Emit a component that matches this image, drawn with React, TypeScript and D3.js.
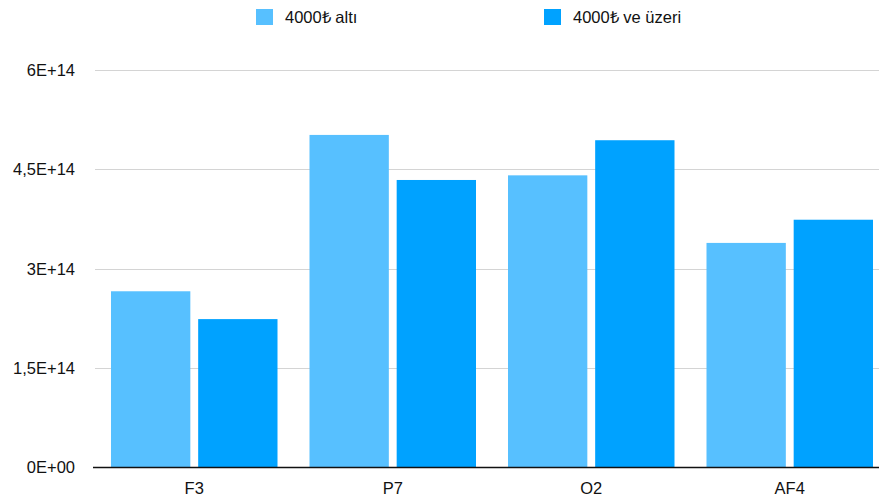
import React from "react";
import * as d3 from "d3";

const categories = ["F3", "P7", "O2", "AF4"];
const seriesNames = ["4000₺ altı", "4000₺ ve üzeri"];
const seriesBelow = [2.66e14, 5.02e14, 4.41e14, 3.39e14];
const seriesAbove = [2.24e14, 4.34e14, 4.94e14, 3.74e14];
const tickValues = [0, 1.5e14, 3e14, 4.5e14, 6e14];
const tickLabels = ["0E+00", "1,5E+14", "3E+14", "4,5E+14", "6E+14"];
const colors = ["#57c0ff", "#00a2ff"];

const W = 879;
const H = 497;
const FONT = "'Liberation Sans', Arial, Helvetica, sans-serif";

export default function App() {
  const y = d3.scaleLinear().domain([0, 6e14]).range([467.5, 70]);
  const x0 = d3.scaleBand().domain(categories).range([95, 889]).padding(0);
  const bw = x0.bandwidth();
  const x1 = d3
    .scaleBand()
    .domain(seriesNames)
    .range([16, bw - 16])
    .paddingInner(0.09)
    .paddingOuter(0);
  const data = [seriesBelow, seriesAbove];

  return (
    <svg
      width={W}
      height={H}
      style={{ position: "absolute", left: 0, top: 0, background: "#fff" }}
      fontFamily={FONT}
    >
      {tickValues.map((t, i) =>
        i === 0 ? null : (
          <line
            key={"g" + i}
            x1={95}
            x2={W}
            y1={Math.round(y(t)) + 0.5}
            y2={Math.round(y(t)) + 0.5}
            stroke="#d4d4d4"
            strokeWidth={1.2}
          />
        )
      )}
      {tickValues.map((t, i) => (
        <text
          key={"t" + i}
          x={75}
          y={y(t)}
          dy="0.35em"
          textAnchor="end"
          fontSize={16.5}
          fill="#111"
        >
          {tickLabels[i]}
        </text>
      ))}
      {categories.map((c, ci) =>
        seriesNames.map((s, si) => {
          const v = data[si][ci];
          const bx = (x0(c) as number) + (x1(s) as number);
          return (
            <rect
              key={c + s}
              x={bx}
              y={y(v)}
              width={x1.bandwidth()}
              height={y(0) - y(v)}
              fill={colors[si]}
            />
          );
        })
      )}
      <line x1={93} x2={W} y1={467.5} y2={467.5} stroke="#111" strokeWidth={1.3} />
      {categories.map((c) => (
        <text
          key={"c" + c}
          x={(x0(c) as number) + bw / 2}
          y={494}
          textAnchor="middle"
          fontSize={16.5}
          fill="#111"
        >
          {c}
        </text>
      ))}
      {seriesNames.map((s, si) => {
        const lx = si === 0 ? 256 : 544;
        return (
          <g key={"l" + s}>
            <rect x={lx} y={9} width={17} height={16} fill={colors[si]} />
            <text x={lx + 29} y={17} dy="0.35em" fontSize={16.5} fill="#111">
              {s}
            </text>
          </g>
        );
      })}
    </svg>
  );
}
